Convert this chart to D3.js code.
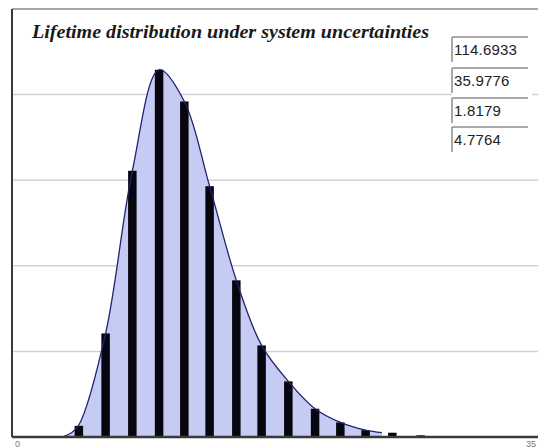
<!DOCTYPE html>
<html>
<head>
<meta charset="utf-8">
<script src="https://cdn.jsdelivr.net/npm/d3@7"></script>
<style>
  html, body { margin: 0; padding: 0; background: #ffffff; }
  svg { display: block; }
</style>
</head>
<body>
<div id="chart"></div>
<script>
// ---- data ----
const titleText = "Lifetime distribution under system uncertainties";
const statValues = ["114.6933", "35.9776", "1.8179", "4.7764"];
const xTickLabels = ["0", "35"];
const xTickValues = [0, 35];
const gridValues = [1, 2, 3, 4];
// histogram bars (bin centre, height)
const barX = [4.5, 6.3, 8.1, 9.9, 11.6, 13.3, 15.1, 16.8, 18.6, 20.4, 22.1, 23.8, 25.6, 27.5];
const barY = [0.13, 1.21, 3.11, 4.29, 3.92, 2.93, 1.83, 1.07, 0.65, 0.33, 0.17, 0.08, 0.05, 0.02];
// fitted density curve
const curveX = [3.4, 4.0, 4.5, 6.3, 8.1, 9.9, 11.6, 13.3, 15.1, 16.8, 18.6, 20.4, 22.1, 23.8, 24.9];
const curveY = [0.0, 0.05, 0.14, 1.21, 3.11, 4.29, 3.92, 2.93, 1.83, 1.07, 0.65, 0.33, 0.17, 0.08, 0.05];

// ---- layout ----
const W = 538, H = 448;
const plot = { left: 12, right: 538, top: 9, bottom: 437 };

const svg = d3.select("#chart").append("svg").attr("width", W).attr("height", H);

const x = d3.scaleLinear().domain([0, 35]).range([plot.left, 532]);
const y = d3.scaleLinear().domain([0, 5]).range([plot.bottom, plot.top]);

// gridlines
svg.append("g").selectAll("line").data(gridValues).join("line")
  .attr("x1", plot.left).attr("x2", plot.right)
  .attr("y1", d => y(d)).attr("y2", d => y(d))
  .attr("stroke", "#d2d2d2").attr("stroke-width", 1.5);

// frame top & left
svg.append("line").attr("x1", plot.left).attr("x2", plot.right)
  .attr("y1", plot.top).attr("y2", plot.top)
  .attr("stroke", "#8a8a8a").attr("stroke-width", 1.5);
svg.append("line").attr("x1", plot.left).attr("x2", plot.left)
  .attr("y1", plot.top).attr("y2", plot.bottom)
  .attr("stroke", "#3a3a3a").attr("stroke-width", 2);

// area under curve
const pts = curveX.map((v, i) => [v, curveY[i]]);
const area = d3.area().x(d => x(d[0])).y0(y(0)).y1(d => y(d[1])).curve(d3.curveCatmullRom.alpha(0.5));
const line = d3.line().x(d => x(d[0])).y(d => y(d[1])).curve(d3.curveCatmullRom.alpha(0.5));
svg.append("path").datum(pts).attr("d", area).attr("fill", "#c6cbf3");

// bars
const barW = 8.5;
svg.append("g").selectAll("rect").data(barX).join("rect")
  .attr("x", d => x(d) - barW / 2)
  .attr("width", barW)
  .attr("y", (d, i) => y(barY[i]))
  .attr("height", (d, i) => y(0) - y(barY[i]))
  .attr("fill", "#06060e");

// curve line
svg.append("path").datum(pts).attr("d", line)
  .attr("fill", "none").attr("stroke", "#22226e").attr("stroke-width", 1.3);

// bottom axis line
svg.append("line").attr("x1", plot.left).attr("x2", plot.right)
  .attr("y1", plot.bottom).attr("y2", plot.bottom)
  .attr("stroke", "#3a3a3a").attr("stroke-width", 2.5);

// x tick labels
svg.append("g").selectAll("text").data(xTickValues).join("text")
  .attr("x", (d, i) => i === 0 ? x(d) + 3 : x(d) - 6)
  .attr("y", 447)
  .attr("font-family", "Liberation Sans, Arial, sans-serif")
  .attr("font-size", 9)
  .attr("fill", "#777")
  .text((d, i) => xTickLabels[i]);

// title
svg.append("text")
  .attr("x", 32).attr("y", 38)
  .attr("font-family", "Liberation Serif, Times New Roman, serif")
  .attr("font-weight", "bold").attr("font-style", "italic")
  .attr("font-size", 18)
  .attr("textLength", 397)
  .attr("lengthAdjust", "spacingAndGlyphs")
  .attr("fill", "#1a1a1a")
  .text(titleText);

// stat boxes
const boxTop = [37, 68, 98, 127];
const boxes = svg.append("g").selectAll("g").data(statValues).join("g")
  .attr("transform", (d, i) => `translate(452,${boxTop[i]})`);
boxes.append("rect").attr("x", 0).attr("y", 0).attr("width", 80).attr("height", 29).attr("fill", "#fff");
boxes.append("line").attr("x1", 0).attr("x2", 76).attr("y1", 0).attr("y2", 0)
  .attr("stroke", "#8c8c8c").attr("stroke-width", 1.5);
boxes.append("line").attr("x1", 0).attr("x2", 0).attr("y1", 0).attr("y2", 25)
  .attr("stroke", "#8c8c8c").attr("stroke-width", 1.5);
boxes.append("text").attr("x", 2).attr("y", 18)
  .attr("font-family", "Liberation Sans, Arial, sans-serif")
  .attr("font-size", 15)
  .attr("letter-spacing", 0.2)
  .attr("fill", "#222")
  .text(d => d);
</script>
</body>
</html>
